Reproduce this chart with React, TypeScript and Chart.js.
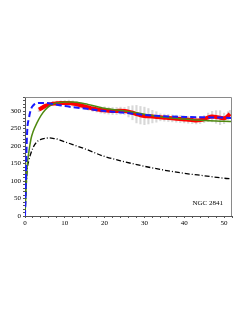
import React, { useEffect, useRef } from "react";
import { Chart, registerables } from "chart.js";
Chart.register(...registerables);

const galaxyLabel = "NGC 2841";

const obsRadius = [3.5, 4, 5, 6, 7, 8, 9, 10, 11, 12, 13, 14, 15, 16, 17, 18, 19, 20, 21, 22, 23, 24, 25, 26, 27, 28, 29, 30, 31, 32, 33, 34, 35, 36, 37, 38, 39, 40, 41, 42, 43, 44, 45, 46, 47, 48, 49, 50, 51, 51.5];
const obsVelocity = [304, 307, 314, 318, 321, 322, 323, 323, 323, 321, 319, 316, 313, 310, 307, 305, 303, 302, 301, 300, 300, 301, 300, 298, 295, 291, 288, 286, 285, 284, 283, 282, 281, 280, 279, 278, 277, 276, 275, 274, 273, 274, 277, 282, 284, 283, 281, 279, 286, 292];
const obsError = [6, 6, 6, 6, 6, 6, 6, 7, 8, 8, 8, 8, 8, 8, 8, 8, 9, 10, 10, 10, 10, 10, 10, 15, 20, 25, 25, 25, 22, 18, 15, 10, 10, 10, 10, 10, 10, 10, 10, 10, 10, 10, 10, 12, 15, 18, 20, 15, 12, 10];

const modelRadius = [0, 0.5, 1, 1.5, 2, 3, 4, 5, 6, 7, 8, 10, 12, 15, 20, 25, 30, 35, 40, 45, 50, 52];
const totalModel = [0, 135, 185, 220, 240, 266, 287, 302, 313, 320, 323, 326, 326, 321, 308, 300, 291, 282, 277, 273, 271, 270];
const altModel = [0, 230, 280, 305, 315, 322, 323, 323, 322, 320, 318, 314, 311, 307, 300, 295, 289, 285, 283, 282, 281, 280];
const diskModel = [0, 125, 160, 180, 195, 212, 219, 222, 223, 222, 220, 212, 204, 192, 170, 155, 142, 131, 122, 115, 108, 106];

const xMin = 0, xMax = 52, xStep = 2, xLabelStep = 10;
const yMin = 0, yMax = 340, yStep = 10, yLabelStep = 50, yLabelMax = 300;

const FONT = "'Liberation Serif', 'DejaVu Serif', serif";

export default function App() {
  const ref = useRef<HTMLCanvasElement | null>(null);
  useEffect(() => {
    if (!ref.current) return;
    const pts = (xs: number[], ys: number[]) => xs.map((x, i) => ({ x, y: ys[i] }));
    const framePlugin = {
      id: "frame",
      afterDatasetsDraw(chart: any) {
        const { ctx, chartArea: a } = chart;
        ctx.save();
        ctx.strokeStyle = "#8a8a8a";
        ctx.lineWidth = 1;
        ctx.beginPath();
        ctx.moveTo(a.left, a.top + 0.5);
        ctx.lineTo(a.right - 0.5, a.top + 0.5);
        ctx.lineTo(a.right - 0.5, a.bottom);
        ctx.stroke();
        ctx.fillStyle = "#000";
        ctx.font = "7px " + FONT;
        ctx.textAlign = "right";
        ctx.textBaseline = "middle";
        ctx.fillText(galaxyLabel, a.right - 9, a.bottom - 13);
        ctx.restore();
      },
    };
    const chart = new Chart(ref.current, {
      type: "line",
      data: {
        datasets: [
          {
            type: "bar",
            data: obsRadius.map((x, i) => ({ x, y: [obsVelocity[i] - obsError[i], obsVelocity[i] + obsError[i]] })) as any,
            backgroundColor: "rgba(200,200,200,0.7)",
            barThickness: 1.5,
            order: 10,
          } as any,
          {
            data: pts(obsRadius, obsVelocity),
            borderColor: "#ff0000",
            borderWidth: 4,
            pointRadius: 0,
            cubicInterpolationMode: "monotone",
            order: 5,
          },
          {
            data: pts(modelRadius, diskModel),
            borderColor: "#000000",
            borderWidth: 1.3,
            borderDash: [5, 2, 1, 2],
            pointRadius: 0,
            cubicInterpolationMode: "monotone",
            order: 4,
          },
          {
            data: pts(modelRadius, totalModel),
            borderColor: "#4f8a10",
            borderWidth: 1.5,
            pointRadius: 0,
            cubicInterpolationMode: "monotone",
            order: 3,
          },
          {
            data: pts(modelRadius, altModel),
            borderColor: "#1a1aff",
            borderWidth: 2,
            borderDash: [6, 3],
            pointRadius: 0,
            cubicInterpolationMode: "monotone",
            order: 2,
          },
        ],
      },
      options: {
        responsive: false,
        animation: false,
        layout: { padding: { top: 97, right: 17, left: 0, bottom: 93 } },
        plugins: { legend: { display: false }, tooltip: { enabled: false } },
        scales: {
          x: {
            type: "linear",
            min: xMin,
            max: xMax,
            offset: false,
            afterFit: (s: any) => { s.height = 14; },
            border: { color: "#555", width: 1 },
            grid: { drawOnChartArea: false, drawTicks: true, tickLength: 2, color: "#555", offset: false },
            ticks: {
              stepSize: xStep,
              autoSkip: false,
              maxRotation: 0,
              padding: 1,
              color: "#000",
              font: { family: FONT, size: 7 },
              callback: (v: any) => (Number(v) % xLabelStep === 0 ? String(v) : ""),
            },
          },
          y: {
            type: "linear",
            min: yMin,
            max: yMax,
            afterFit: (s: any) => { s.width = 25; },
            border: { color: "#555", width: 1 },
            grid: { drawOnChartArea: false, drawTicks: true, tickLength: 2, color: "#555" },
            ticks: {
              stepSize: yStep,
              autoSkip: false,
              padding: 2,
              color: "#000",
              font: { family: FONT, size: 7 },
              callback: (v: any) => (Number(v) % yLabelStep === 0 && Number(v) <= yLabelMax ? String(v) : ""),
            },
          },
        },
      },
      plugins: [framePlugin],
    });
    return () => chart.destroy();
  }, []);
  return (
    <div style={{ position: "absolute", left: 0, top: 0, width: 249, height: 323, background: "#fff" }}>
      <canvas ref={ref} width={249} height={323} />
    </div>
  );
}
